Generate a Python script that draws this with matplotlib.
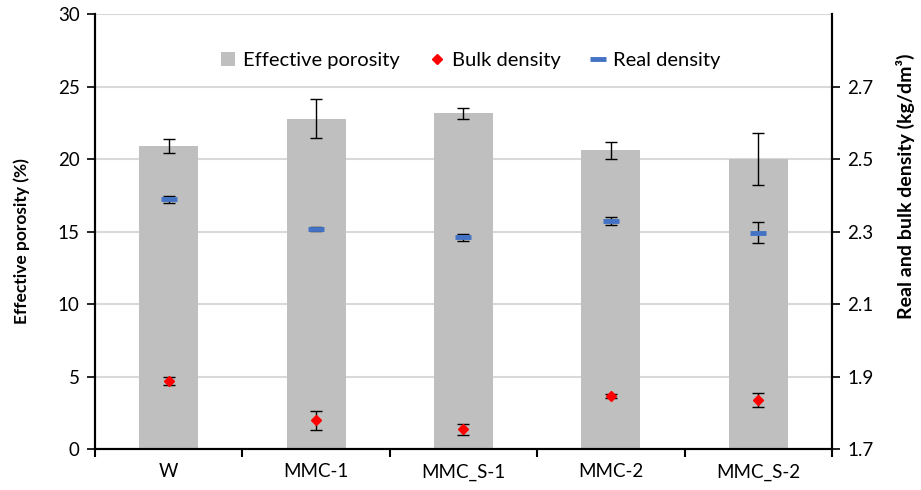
import numpy as np
import matplotlib.pyplot as plt
from matplotlib.ticker import FixedLocator

plt.rcParams['font.family'] = ['Lato', 'DejaVu Sans']

# 数据
samples = ["W", "MMC-1", "MMC_S-1", "MMC-2", "MMC_S-2"]
porosity = [20.9, 22.8, 23.15, 20.6, 20.0]
porosity_err = [0.5, 1.35, 0.4, 0.56, 1.77]
real_density = [2.389, 2.307, 2.285, 2.329, 2.297]
real_err = [0.01, 0.006, 0.01, 0.011, 0.029]
bulk_density = [1.889, 1.780, 1.756, 1.847, 1.837]
bulk_err = [0.012, 0.025, 0.015, 0.005, 0.019]

x = np.arange(len(samples))

# 画布
fig = plt.figure(figsize=(9.21, 4.9), dpi=100)
ax = fig.add_axes([0.1031, 0.0827, 0.8003, 0.8887])
ax2 = ax.twinx()

# 柱状图
ax.bar(x, porosity, width=0.4, color="#bfbfbf", zorder=2, label="Effective porosity")
ax.errorbar(x, porosity, yerr=porosity_err, fmt="none", ecolor="black",
            elinewidth=1, capsize=4, capthick=1, zorder=3)

# 密度点
ax2.errorbar(x, bulk_density, yerr=bulk_err, fmt="none", ecolor="black",
             elinewidth=1, capsize=4, capthick=1, zorder=3)
ax2.errorbar(x, real_density, yerr=real_err, fmt="none", ecolor="black",
             elinewidth=1, capsize=4, capthick=1, zorder=3)
ax2.plot(x, bulk_density, linestyle="none", marker="D", markersize=5.5,
         color="red", zorder=4, label="Bulk density")
ax2.plot(x, real_density, linestyle="none", marker="_", markersize=11,
         markeredgewidth=3.5, color="#4472c4", zorder=4, label="Real density")

# 坐标轴
ax.set_xlim(-0.5, len(samples) - 0.5)
ax.set_ylim(0, 30)
ax.set_yticks(np.arange(0, 31, 5))
ax2.set_ylim(1.7, 2.9)
ax2.set_yticks([1.7, 1.9, 2.1, 2.3, 2.5, 2.7])
ax2.set_yticklabels(["1.7", "1.9", "2.1", "2.3", "2.5", "2.7"])

ax.set_xticks(x)
ax.set_xticklabels(samples)
ax.xaxis.set_minor_locator(FixedLocator(np.arange(-0.5, len(samples), 1.0)))
ax.tick_params(axis="x", which="major", length=0, pad=10, labelsize=13.5)
ax.tick_params(axis="x", which="minor", length=6, width=1.5, direction="out")
ax.tick_params(axis="y", length=6, width=1.2, labelsize=13.5, pad=5)
ax2.tick_params(axis="y", length=6, width=1.2, labelsize=13.5, pad=5)

# 网格线
ax.yaxis.grid(True, color="#d9d9d9", linewidth=1.5, zorder=0)
ax.set_axisbelow(True)

for a in (ax, ax2):
    a.spines["top"].set_visible(False)
    a.spines["left"].set_linewidth(1.5)
    a.spines["right"].set_linewidth(1.5)
    a.spines["bottom"].set_linewidth(1.5)

# 轴标题
ax.set_ylabel("Effective porosity (%)", fontsize=12.5, fontweight="bold", va="center")
ax.yaxis.set_label_coords(-0.099, 0.479)
ax2.set_ylabel("Real and bulk density (kg/dm³)", fontsize=14, fontweight="bold",
               rotation=90, va="center")
ax2.yaxis.set_label_coords(1.1, 0.605)

# 图例
h1, l1 = ax.get_legend_handles_labels()
h2, l2 = ax2.get_legend_handles_labels()
leg = ax2.legend(h1 + h2, l1 + l2, loc="upper center", bbox_to_anchor=(0.51, 0.955),
                 ncol=3, frameon=False, fontsize=14.5, handlelength=0.7,
                 handletextpad=0.4, columnspacing=1.5)

fig.savefig("out.png", dpi=100)
